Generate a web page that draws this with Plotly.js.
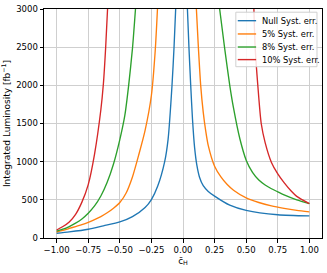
<!DOCTYPE html>
<html>
<head>
<meta charset="utf-8">
<script src="https://cdn.plot.ly/plotly-3.0.1.min.js"></script>
<style>html,body{margin:0;padding:0;background:#fff;}#chart{width:327px;height:273px;}</style>
</head>
<body>
<div id="chart"></div>
<script>
const seriesNames = ["Null Syst. err.", "5% Syst. err.", "8% Syst. err.", "10% Syst. err."];
const seriesColors = ["#1f77b4", "#ff7f0e", "#2ca02c", "#d62728"];

const xNull = [-1.0, -0.9, -0.75, -0.63, -0.5, -0.4, -0.3, -0.25, -0.2, -0.145, -0.118, -0.087, -0.071, -0.058, null,
               0.035, 0.047, 0.061, 0.075, 0.092, 0.11, 0.13, 0.16, 0.2, 0.25, 0.37, 0.5, 0.75, 1.0];
const yNull = [62, 80, 115, 160, 210, 280, 400, 504, 680, 1000, 1292, 2000, 2500, 3000, null,
               3000, 2500, 2000, 1560, 1180, 950, 800, 685, 610, 548, 430, 362, 305, 290];

const x5 = [-1.0, -0.95, -0.9, -0.85, -0.8, -0.75, -0.7, -0.65, -0.6, -0.55, -0.5, -0.45, -0.4, -0.35, -0.3, -0.25, -0.22, -0.202, null,
            0.106, 0.12, 0.14, 0.16, 0.18, 0.2, 0.25, 0.3, 0.35, 0.4, 0.5, 0.6, 0.7, 0.8, 0.9, 1.0];
const y5 = [79, 100, 125, 150, 175, 205, 240, 280, 330, 390, 465, 590, 800, 1090, 1410, 1870, 2450, 3000, null,
            3000, 2550, 2000, 1650, 1400, 1210, 940, 800, 700, 625, 525, 465, 420, 388, 362, 342];

const x8 = [-1.0, -0.95, -0.9, -0.85, -0.8, -0.75, -0.7, -0.65, -0.6, -0.55, -0.5, -0.46, -0.43, -0.4, -0.376, null,
            0.29, 0.33, 0.37, 0.4, 0.45, 0.5, 0.55, 0.6, 0.65, 0.7, 0.75, 0.8, 0.9, 1.0];
const y8 = [90, 115, 150, 195, 250, 325, 420, 550, 730, 970, 1290, 1610, 2000, 2480, 3000, null,
            3000, 2480, 2000, 1700, 1300, 1020, 860, 760, 695, 645, 605, 565, 500, 450];

const x10 = [-1.0, -0.95, -0.9, -0.85, -0.8, -0.75, -0.7, -0.65, -0.63, -0.612, -0.597, null,
             0.561, 0.571, 0.592, 0.619, 0.65, 0.7, 0.75, 0.8, 0.856, 0.9, 1.0];
const y10 = [105, 150, 210, 310, 470, 700, 1100, 1680, 2020, 2500, 3000, null,
             3000, 2500, 2000, 1500, 1250, 990, 840, 725, 615, 545, 450];

const xTicks = [-1.0, -0.75, -0.5, -0.25, 0.0, 0.25, 0.5, 0.75, 1.0];
const xTickLabels = ["\u22121.00", "\u22120.75", "\u22120.50", "\u22120.25", "0.00", "0.25", "0.50", "0.75", "1.00"];
const yTicks = [0, 500, 1000, 1500, 2000, 2500, 3000];

const xs = [xNull, x5, x8, x10];
const ys = [yNull, y5, y8, y10];

const traces = xs.map((x, i) => ({
  type: "scatter", mode: "lines", x: x, y: ys[i], name: seriesNames[i],
  connectgaps: false, cliponaxis: true, showlegend: false,
  line: {color: seriesColors[i], width: 1.35, shape: "spline", smoothing: 0.7}
}));

const fam = "DejaVu Sans, sans-serif";
const tickFont = {family: fam, size: 8.5, color: "#000"};
const titleFont = {family: fam, size: 9, color: "#000"};
const legFont = {family: fam, size: 8.3, color: "#000"};

// matplotlib-style legend in paper coordinates
const legBox = {x0: 0.690, x1: 0.982, y0: 0.748, y1: 0.986};
const legRowsY = [0.949, 0.891, 0.834, 0.779];
const shapes = [{type: "rect", xref: "paper", yref: "paper",
  x0: legBox.x0, x1: legBox.x1, y0: legBox.y0, y1: legBox.y1,
  fillcolor: "rgba(255,255,255,0.85)", line: {color: "#d0d0d0", width: 1}, layer: "above"}];
const annotations = [];
seriesNames.forEach((n, i) => {
  shapes.push({type: "line", xref: "paper", yref: "paper",
    x0: 0.697, x1: 0.763, y0: legRowsY[i], y1: legRowsY[i],
    line: {color: seriesColors[i], width: 1.4}, layer: "above"});
  annotations.push({xref: "paper", yref: "paper", x: 0.776, y: legRowsY[i],
    xanchor: "left", yanchor: "middle", text: n, showarrow: false, font: legFont});
});

const layout = {
  width: 327, height: 273,
  margin: {l: 44, r: 5, t: 9, b: 35},
  paper_bgcolor: "#fff", plot_bgcolor: "#fff",
  font: tickFont,
  showlegend: false,
  shapes: shapes,
  annotations: annotations,
  xaxis: {range: [-1.1, 1.1], tickvals: xTicks, ticktext: xTickLabels,
    showgrid: true, gridcolor: "#cfcfcf", gridwidth: 1,
    zeroline: false, showline: true, linecolor: "#000", linewidth: 1, mirror: true,
    ticks: "outside", ticklen: 3.5, tickcolor: "#000", tickfont: tickFont,
    title: {text: "c\u0304<sub>H</sub>", font: titleFont, standoff: 3}},
  yaxis: {range: [0, 3000], tickvals: yTicks,
    showgrid: true, gridcolor: "#cfcfcf", gridwidth: 1,
    zeroline: false, showline: true, linecolor: "#000", linewidth: 1, mirror: true,
    ticks: "outside", ticklen: 3.5, tickcolor: "#000", tickfont: tickFont,
    title: {text: "Integrated Luminosity [fb<sup>\u22121</sup>]", font: titleFont, standoff: 4}}
};

Plotly.newPlot("chart", traces, layout, {displayModeBar: false, staticPlot: true});
</script>
</body>
</html>
